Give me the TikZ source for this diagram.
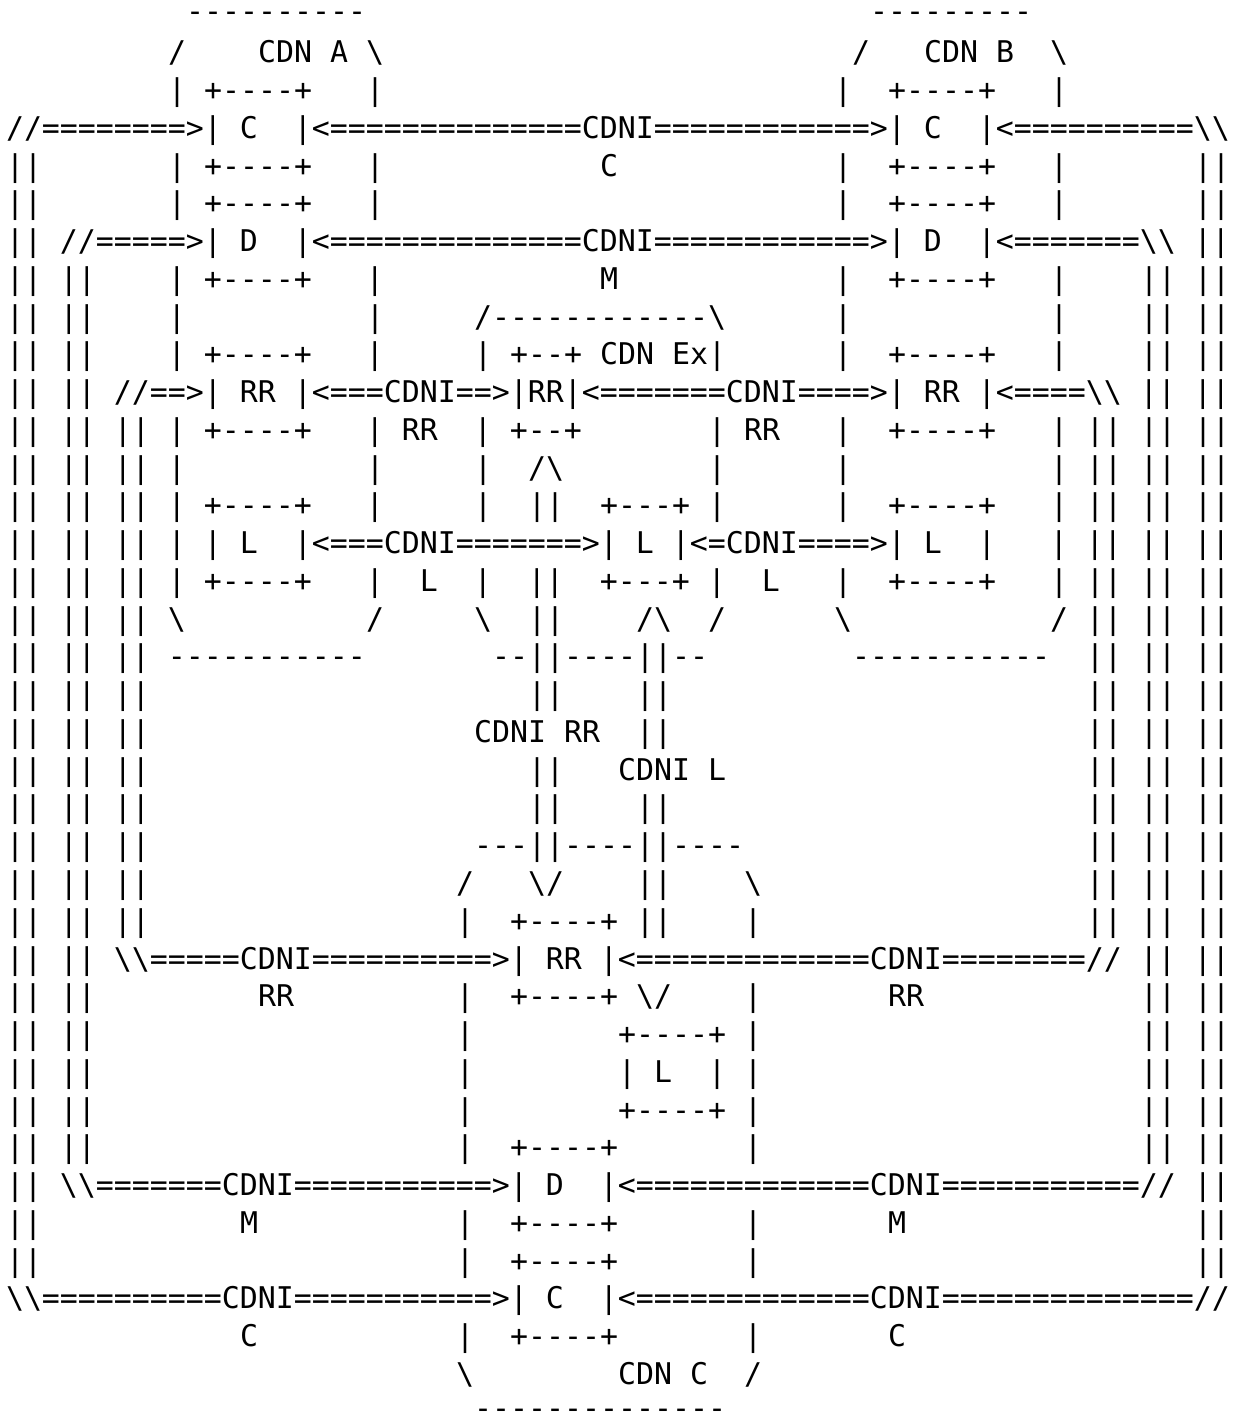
\documentclass[tikz,border=0pt]{standalone}
\usepackage{fontspec}
\setmonofont{DejaVu Sans Mono}
\usetikzlibrary{positioning}

% blank cells and repeated characters, one column = one advance
\newcommand\s[1]{\kern#1\fontcharwd\font`M\relax}
\newcommand\rep[2]{\ifnum#1>0 #2\expandafter\rep\expandafter{\the\numexpr#1-1\relax}{#2}\fi}
\newcommand\bs{\textbackslash}
\newcommand\asciitext{\ttfamily\fontsize{14.95pt}{18pt}\selectfont\frenchspacing}

\tikzset{asciirow/.style={anchor=base west, inner sep=0pt, outer sep=0pt, font=\asciitext}}

\begin{document}
\begin{tikzpicture}[x=0.5pt,y=-0.5pt]
\useasboundingbox (0,0) rectangle (1239,1414);

% CDN A and CDN B, C and M interfaces
\node[asciirow] (row1) at (6,21+37.76*0) {\s{10}\rep{10}-\s{28}\rep9-};
\node[asciirow] (row2) at (6,25+37.76*1) {\s9/\s4CDN A\s1\bs\s{26}/\s3CDN B\s2\bs};
\node[asciirow] (row3) at (6,25+37.76*2) {\s9|\s1+----+\s3|\s{25}|\s2+----+\s3|};
\node[asciirow] (row4) at (6,25+37.76*3) {//\rep8=>|\s1C\s2|<\rep{14}=CDNI\rep{12}=>|\s1C\s2|<\rep{10}=\bs\bs};
\node[asciirow] (row5) at (6,25+37.76*4) {||\s7|\s1+----+\s3|\s{12}C\s{12}|\s2+----+\s3|\s7||};
\node[asciirow] (row6) at (6,25+37.76*5) {||\s7|\s1+----+\s3|\s{25}|\s2+----+\s3|\s7||};
\node[asciirow] (row7) at (6,25+37.76*6) {||\s1//\rep5=>|\s1D\s2|<\rep{14}=CDNI\rep{12}=>|\s1D\s2|<\rep7=\bs\bs\s1||};
\node[asciirow] (row8) at (6,25+37.76*7) {||\s1||\s4|\s1+----+\s3|\s{12}M\s{12}|\s2+----+\s3|\s4||\s1||};

% CDN Ex and the RR / L interfaces
\node[asciirow] (row9) at (6,25+37.76*8) {||\s1||\s4|\s{10}|\s5/\rep{12}-\bs\s6|\s{11}|\s4||\s1||};
\node[asciirow] (row10) at (6,25+37.76*9) {||\s1||\s4|\s1+----+\s3|\s5|\s1+--+\s1CDN Ex|\s6|\s2+----+\s3|\s4||\s1||};
\node[asciirow] (row11) at (6,25+37.76*10) {||\s1||\s1//==>|\s1RR\s1|<===CDNI==>|RR|<\rep7=CDNI====>|\s1RR\s1|<====\bs\bs\s1||\s1||};
\node[asciirow] (row12) at (6,25+37.76*11) {||\s1||\s1||\s1|\s1+----+\s3|\s1RR\s2|\s1+--+\s7|\s1RR\s3|\s2+----+\s3|\s1||\s1||\s1||};
\node[asciirow] (row13) at (6,25+37.76*12) {||\s1||\s1||\s1|\s{10}|\s5|\s2/\bs\s8|\s6|\s{11}|\s1||\s1||\s1||};
\node[asciirow] (row14) at (6,25+37.76*13) {||\s1||\s1||\s1|\s1+----+\s3|\s5|\s2||\s2+---+\s1|\s6|\s2+----+\s3|\s1||\s1||\s1||};
\node[asciirow] (row15) at (6,25+37.76*14) {||\s1||\s1||\s1|\s1|\s1L\s2|<===CDNI\rep7=>|\s1L\s1|<=CDNI====>|\s1L\s2|\s3|\s1||\s1||\s1||};
\node[asciirow] (row16) at (6,25+37.76*15) {||\s1||\s1||\s1|\s1+----+\s3|\s2L\s2|\s2||\s2+---+\s1|\s2L\s3|\s2+----+\s3|\s1||\s1||\s1||};
\node[asciirow] (row17) at (6,25+37.76*16) {||\s1||\s1||\s1\bs\s{10}/\s5\bs\s2||\s4/\bs\s2/\s6\bs\s{11}/\s1||\s1||\s1||};
\node[asciirow] (row18) at (6,25+37.76*17) {||\s1||\s1||\s1\rep{11}-\s7--||----||--\s8\rep{11}-\s2||\s1||\s1||};
\node[asciirow] (row19) at (6,25+37.76*18) {||\s1||\s1||\s{21}||\s4||\s{23}||\s1||\s1||};
\node[asciirow] (row20) at (6,25+37.76*19) {||\s1||\s1||\s{18}CDNI RR\s2||\s{23}||\s1||\s1||};
\node[asciirow] (row21) at (6,25+37.76*20) {||\s1||\s1||\s{21}||\s3CDNI L\s{20}||\s1||\s1||};
\node[asciirow] (row22) at (6,25+37.76*21) {||\s1||\s1||\s{21}||\s4||\s{23}||\s1||\s1||};

% CDN C
\node[asciirow] (row23) at (6,25+37.76*22) {||\s1||\s1||\s{18}---||----||----\s{19}||\s1||\s1||};
\node[asciirow] (row24) at (6,25+37.76*23) {||\s1||\s1||\s{17}/\s3\bs/\s4||\s4\bs\s{18}||\s1||\s1||};
\node[asciirow] (row25) at (6,25+37.76*24) {||\s1||\s1||\s{17}|\s2+----+\s1||\s4|\s{18}||\s1||\s1||};
\node[asciirow] (row26) at (6,25+37.76*25) {||\s1||\s1\bs\bs\rep5=CDNI\rep{10}=>|\s1RR\s1|<\rep{13}=CDNI\rep8=//\s1||\s1||};
\node[asciirow] (row27) at (6,25+37.76*26) {||\s1||\s9RR\s9|\s2+----+\s1\bs/\s4|\s7RR\s{12}||\s1||};
\node[asciirow] (row28) at (6,25+37.76*27) {||\s1||\s{20}|\s8+----+\s1|\s{21}||\s1||};
\node[asciirow] (row29) at (6,25+37.76*28) {||\s1||\s{20}|\s8|\s1L\s2|\s1|\s{21}||\s1||};
\node[asciirow] (row30) at (6,25+37.76*29) {||\s1||\s{20}|\s8+----+\s1|\s{21}||\s1||};
\node[asciirow] (row31) at (6,25+37.76*30) {||\s1||\s{20}|\s2+----+\s7|\s{21}||\s1||};
\node[asciirow] (row32) at (6,25+37.76*31) {||\s1\bs\bs\rep7=CDNI\rep{11}=>|\s1D\s2|<\rep{13}=CDNI\rep{11}=//\s1||};
\node[asciirow] (row33) at (6,25+37.76*32) {||\s{11}M\s{11}|\s2+----+\s7|\s7M\s{16}||};
\node[asciirow] (row34) at (6,25+37.76*33) {||\s{23}|\s2+----+\s7|\s{24}||};
\node[asciirow] (row35) at (6,25+37.76*34) {\bs\bs\rep{10}=CDNI\rep{11}=>|\s1C\s2|<\rep{13}=CDNI\rep{14}=//};
\node[asciirow] (row36) at (6,25+37.76*35) {\s{13}C\s{11}|\s2+----+\s7|\s7C};
\node[asciirow] (row37) at (6,25+37.76*36) {\s{25}\bs\s8CDN C\s2/};
\node[asciirow] (row38) at (6,21+37.76*37) {\s{26}\rep{14}-};

\end{tikzpicture}
\end{document}
